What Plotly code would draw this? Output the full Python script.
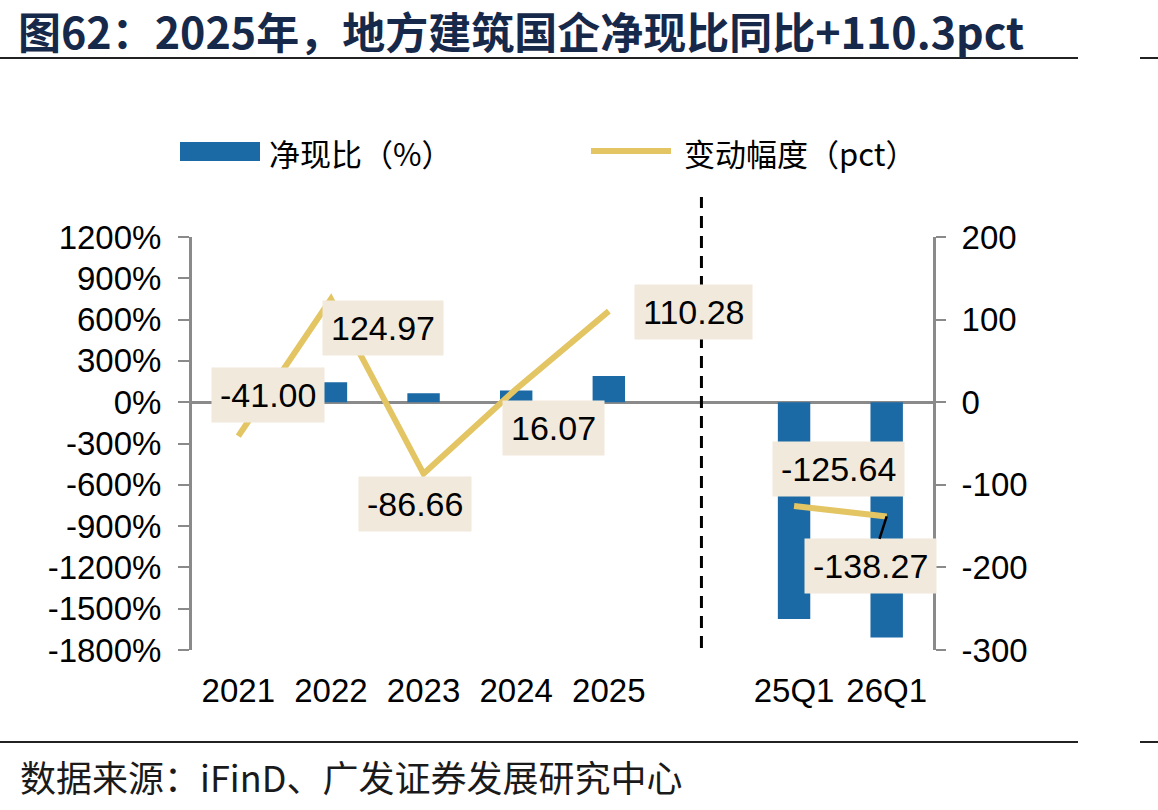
import plotly.graph_objects as go

# ---------------- data ----------------
categories = ["2021", "2022", "2023", "2024", "2025", " ", "25Q1", "26Q1"]
net_cash_ratio = [90, 145, 65, 85, 190, None, -1575, -1710]          # 净现比（%）
change_pct = [-41.00, 124.97, -86.66, 16.07, 110.28, None, -125.64, -138.27]  # 变动幅度（pct）
left_ticks = [1200, 900, 600, 300, 0, -300, -600, -900, -1200, -1500, -1800]
right_ticks = [200, 100, 0, -100, -200, -300]

title_text = "图62：2025年，地方建筑国企净现比同比+110.3pct"
source_text = "数据来源：iFinD、广发证券发展研究中心"
legend_bar = "净现比（%）"
legend_line = "变动幅度（pct）"

# ---------------- style ----------------
W, H = 1158, 810
L, R, T, B = 192, 933, 237, 650
BAR_C = "#1B6AA5"
LINE_C = "#E3C564"
BOX_C = "#F1EADC"
AX_C = "#8A8A8A"
NUM_FONT = "Liberation Sans, Arial, Noto Sans CJK SC"
CJK_FONT = "Noto Sans CJK SC, Liberation Sans"


def px(x):
    return (x - L) / (R - L)


def py(y):
    return (B - y) / (B - T)


fig = go.Figure()
fig.add_trace(go.Bar(x=categories, y=net_cash_ratio, marker_color=BAR_C,
                     marker_line_width=0, yaxis="y", showlegend=False))
fig.add_trace(go.Scatter(x=categories, y=change_pct, mode="lines",
                         line=dict(color=LINE_C, width=6), yaxis="y2",
                         connectgaps=False, showlegend=False))

# data labels (offset boxes)
offsets = [(30, -41), (52, 29), (-9, 30), (37, 39), (85, 1), None, (44, -37), (-16, 50)]
for i, v in enumerate(change_pct):
    if v is None:
        continue
    ax, ay = offsets[i]
    leader = (i == len(categories) - 1)
    fig.add_annotation(x=i, y=v, xref="x", yref="y2", text=f"{v:.2f}",
                       showarrow=True, ax=ax, ay=ay, arrowhead=0,
                       arrowwidth=2.5 if leader else 0.1,
                       arrowcolor="#000000" if leader else "rgba(0,0,0,0)",
                       bgcolor=BOX_C, borderpad=8,
                       font=dict(family=NUM_FONT, size=34, color="#000000"),
                       xanchor="center", yanchor="middle")

fig.update_layout(
    width=W, height=H,
    margin=dict(l=L, r=W - R, t=T, b=H - B),
    paper_bgcolor="white", plot_bgcolor="white",
    bargap=0.65,
    xaxis=dict(type="category", categoryorder="array", categoryarray=categories,
               range=[-0.5, len(categories) - 0.5],
               showline=False, ticks="", showgrid=False, zeroline=False,
               tickfont=dict(family=NUM_FONT, size=33, color="#000000"),
               ticklabelstandoff=18),
    yaxis=dict(range=[-1800, 1200], tickvals=left_ticks,
               ticktext=[f"{t}%" for t in left_ticks],
               showgrid=False, zeroline=True, zerolinecolor=AX_C, zerolinewidth=3,
               showline=True, linecolor=AX_C, linewidth=3,
               ticks="outside", ticklen=11, tickwidth=2, tickcolor=AX_C,
               ticklabelstandoff=10,
               tickfont=dict(family=NUM_FONT, size=33, color="#000000")),
    yaxis2=dict(range=[-300, 200], tickvals=right_ticks,
                ticktext=[str(t) for t in right_ticks],
                overlaying="y", side="right",
                showgrid=False, zeroline=False,
                showline=True, linecolor=AX_C, linewidth=3,
                ticks="outside", ticklen=10, tickwidth=2, tickcolor=AX_C,
                ticklabelstandoff=9,
                tickfont=dict(family=NUM_FONT, size=33, color="#000000")),
)

shapes = []
# dashed separator
shapes.append(dict(type="line", xref="x", yref="paper", x0=5, x1=5,
                   y0=py(648), y1=py(197),
                   line=dict(color="#000000", width=3, dash="12px,8px"),
                   layer="above"))
# top and bottom rules
for yy in (58, 742):
    shapes.append(dict(type="line", xref="paper", yref="paper", x0=px(0), x1=px(1078),
                       y0=py(yy), y1=py(yy), line=dict(color="#222222", width=2)))
    shapes.append(dict(type="line", xref="paper", yref="paper", x0=px(1140), x1=px(1158),
                       y0=py(yy), y1=py(yy), line=dict(color="#222222", width=2)))
# legend swatches
shapes.append(dict(type="rect", xref="paper", yref="paper", x0=px(180), x1=px(260),
                   y0=py(161), y1=py(142), fillcolor=BAR_C, line=dict(width=0)))
shapes.append(dict(type="line", xref="paper", yref="paper", x0=px(591), x1=px(671),
                   y0=py(151), y1=py(151), line=dict(color=LINE_C, width=6)))
fig.update_layout(shapes=shapes)

fig.add_annotation(xref="paper", yref="paper", x=px(267), y=py(152), text=legend_bar,
                   showarrow=False, xanchor="left", yanchor="middle",
                   font=dict(family=CJK_FONT, size=31, color="#000000"))
fig.add_annotation(xref="paper", yref="paper", x=px(682), y=py(152), text=legend_line,
                   showarrow=False, xanchor="left", yanchor="middle",
                   font=dict(family=CJK_FONT, size=31, color="#000000"))
fig.add_annotation(xref="paper", yref="paper", x=px(16), y=py(30), text=f"<b>{title_text}</b>",
                   showarrow=False, xanchor="left", yanchor="middle",
                   font=dict(family=CJK_FONT, size=43, color="#17294A"))
fig.add_annotation(xref="paper", yref="paper", x=px(18), y=py(776), text=source_text,
                   showarrow=False, xanchor="left", yanchor="middle",
                   font=dict(family=CJK_FONT, size=36, color="#1a1a1a"))

fig.write_html("out.html")
